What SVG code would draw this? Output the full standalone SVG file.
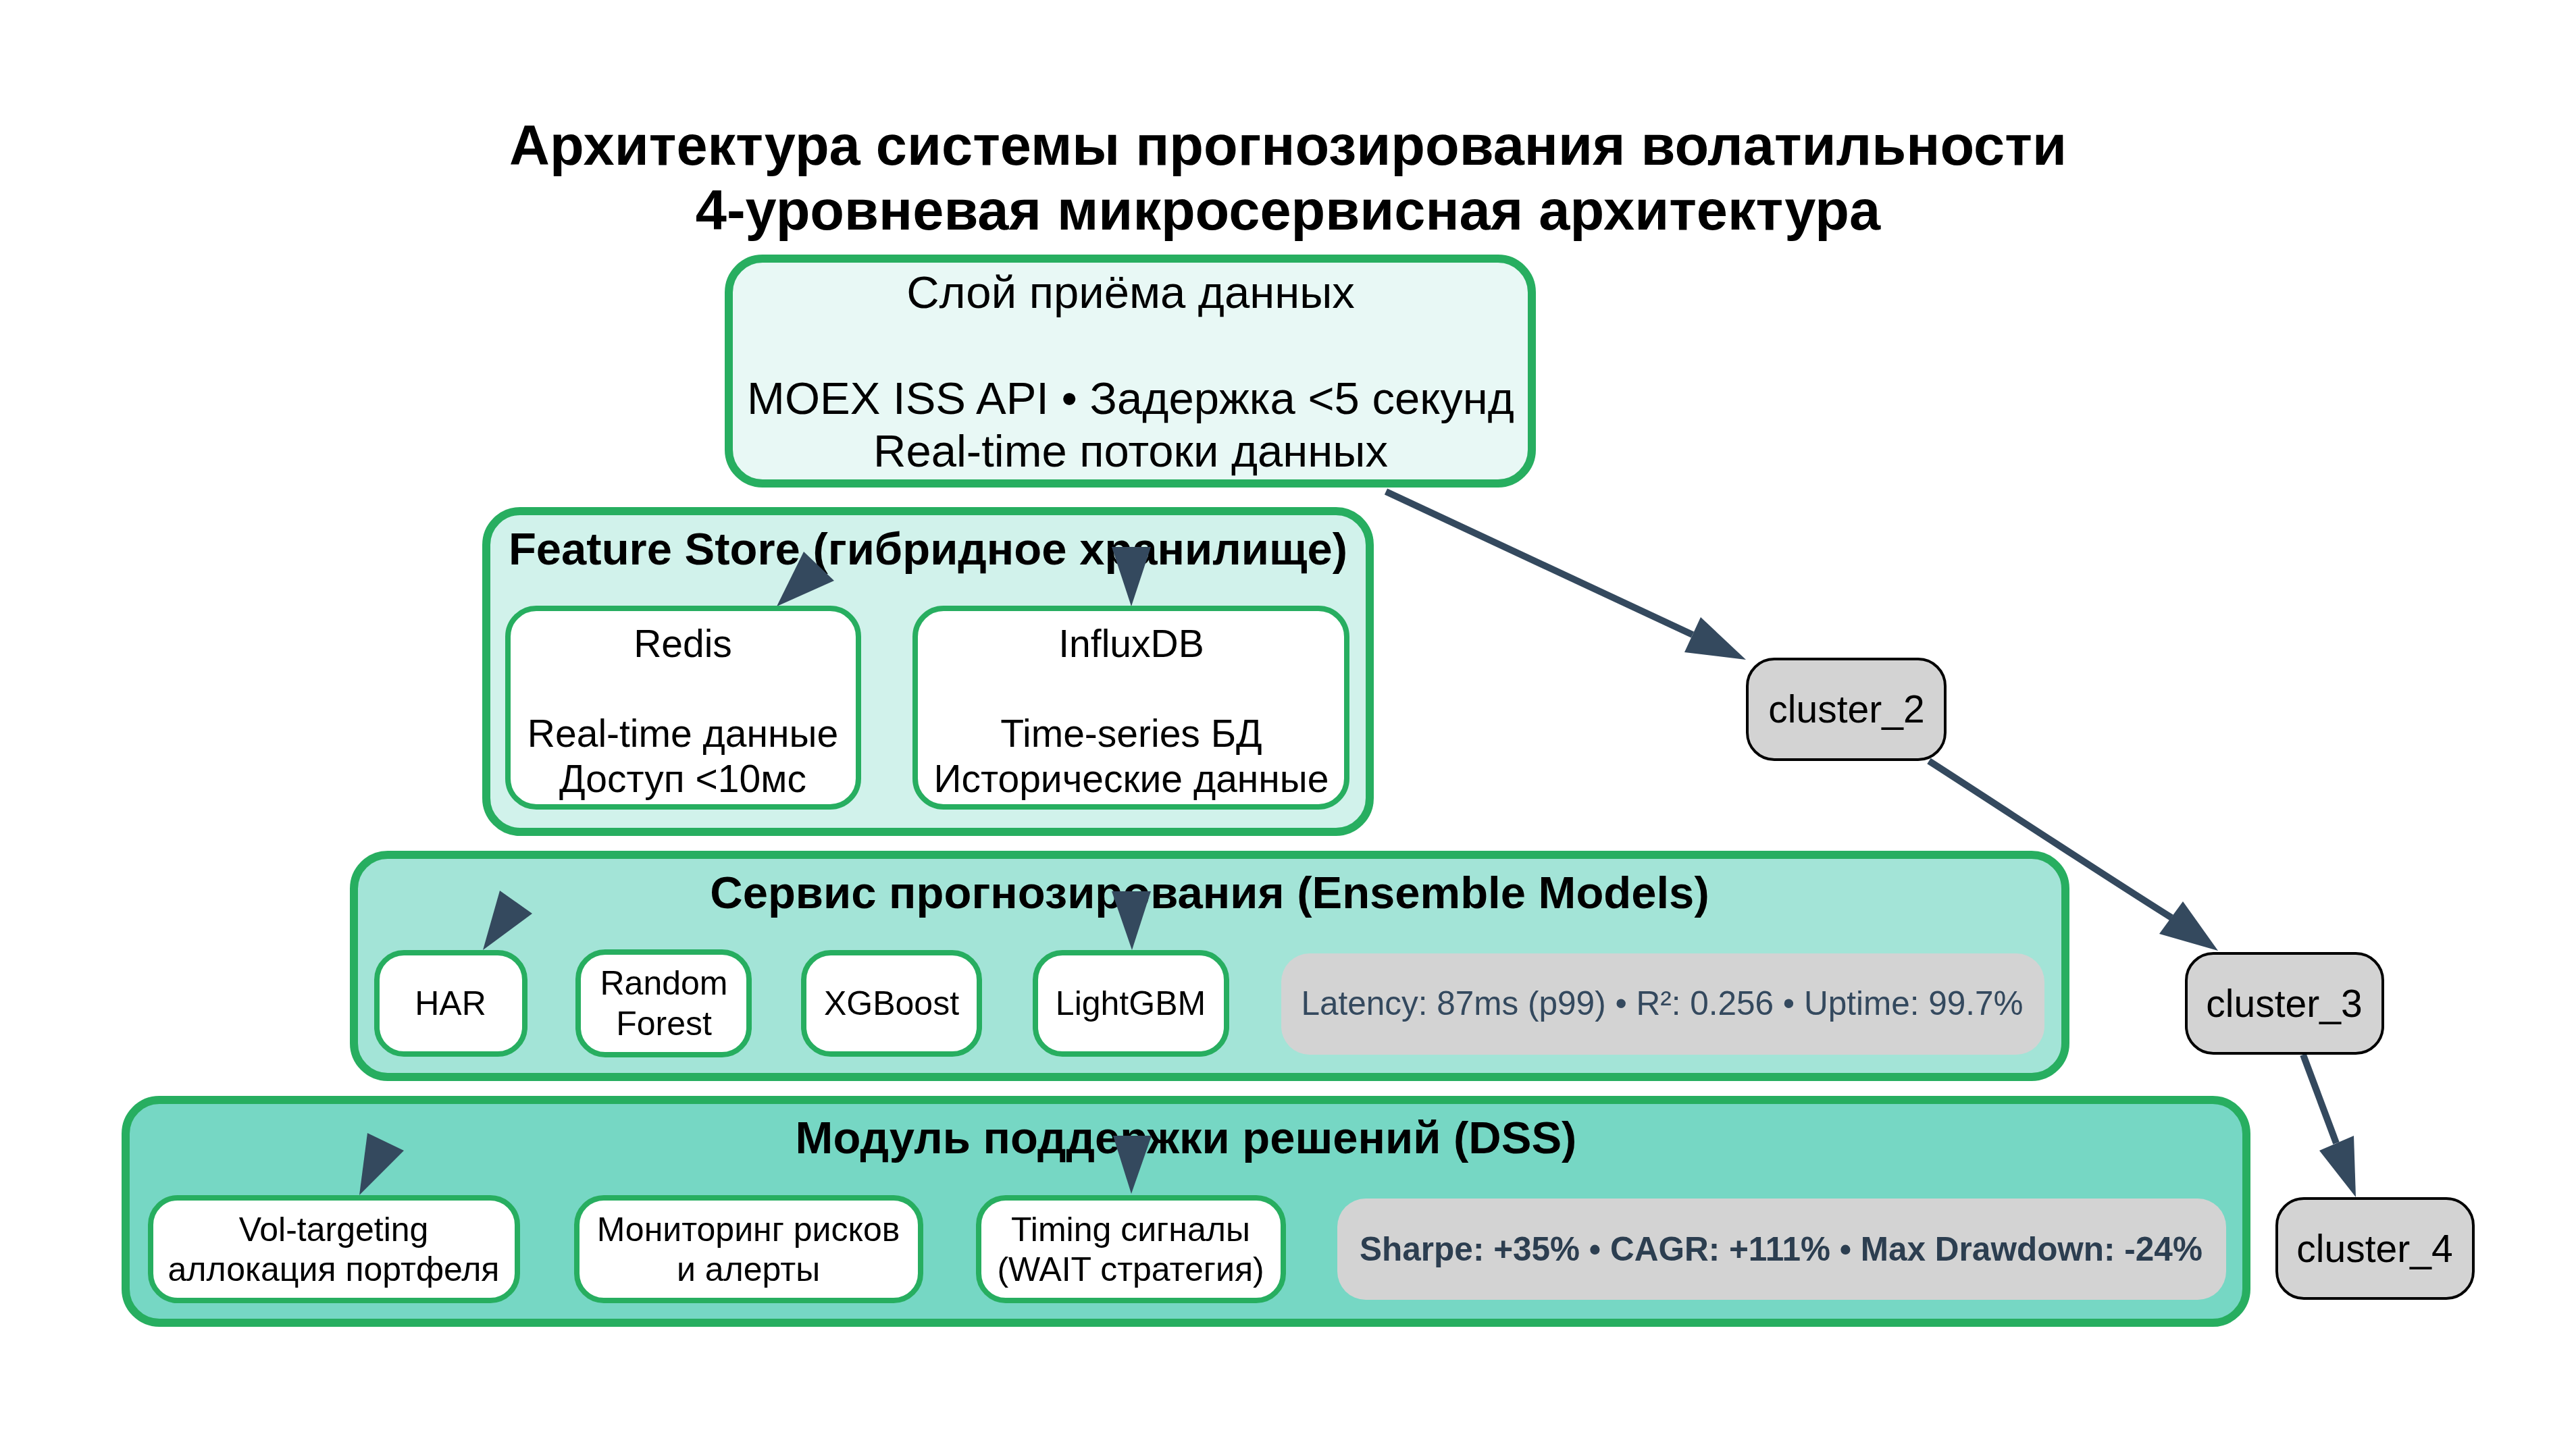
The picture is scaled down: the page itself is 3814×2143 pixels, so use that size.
<svg xmlns="http://www.w3.org/2000/svg" width="3814" height="2143" viewBox="0 0 3814 2143">
<style>
text{font-family:"Liberation Sans",Arial,Helvetica,sans-serif;text-anchor:middle;fill:#000}
.title{font-size:83px;font-weight:bold}
.clabel{font-size:67px;font-weight:bold}
.cluster{stroke:#27ae60;stroke-width:12}
.node{fill:#ffffff;stroke:#27ae60;stroke-width:8}
.t57{font-size:57px}
.t50{font-size:50px}
.t67{font-size:67px}
.metric{fill:#d3d3d3;stroke:none}
.mtext{font-size:49.5px;fill:#34495e}
.mtextb{font-size:49.5px;font-weight:bold;fill:#2c3e50}
.gnode{fill:#d3d3d3;stroke:#000;stroke-width:4}
.edge{fill:none;stroke:#34495e;stroke-width:10}
.head{fill:#34495e;stroke:none}
</style>
<rect x="0" y="0" width="3814" height="2143" fill="#ffffff"/>
<g id="title">
<text class="title" x="1907" y="244">Архитектура системы прогнозирования волатильности</text>
<text class="title" x="1907" y="340">4-уровневая микросервисная архитектура</text>
</g>
<g id="cluster_feature_store">
<rect class="cluster" x="720" y="757" width="1308" height="475" rx="50" fill="#d1f2eb"/>
<text class="clabel" x="1374" y="836">Feature Store (гибридное хранилище)</text>
</g>
<g id="cluster_service">
<rect class="cluster" x="524" y="1266" width="2534" height="329" rx="50" fill="#a3e4d7"/>
<text class="clabel" x="1791" y="1345">Сервис прогнозирования (Ensemble Models)</text>
</g>
<g id="cluster_dss">
<rect class="cluster" x="186" y="1629" width="3140" height="330" rx="50" fill="#76d7c4"/>
<text class="clabel" x="1756" y="1708">Модуль поддержки решений (DSS)</text>
</g>
<g id="connectors">
<path class="edge" d="M2052,728 L2506,940"/>
<polygon class="head" points="2585,977 2518,914 2494,966"/>
<path class="edge" d="M2856,1127 C2960,1194 3110,1293 3215,1359"/>
<polygon class="head" points="3284,1408 3232,1335 3197,1383"/>
<path class="edge" d="M3410,1562 L3459,1693"/>
<polygon class="head" points="3488,1773 3485,1682 3434,1704"/>
<polygon class="head" points="1190,817 1235,860 1150,898"/>
<polygon class="head" points="1646,810 1704,810 1675,898"/>
<polygon class="head" points="740,1319 788,1353 715,1407"/>
<polygon class="head" points="1646,1320 1704,1320 1676,1407"/>
<polygon class="head" points="544,1678 598,1704 532,1770"/>
<polygon class="head" points="1648,1682 1705,1682 1675,1768"/>
</g>
<g id="ingest">
<rect class="cluster" x="1079" y="383" width="1189" height="333" rx="50" fill="#e8f8f5"/>
<text class="t67" x="1674" y="456">Слой приёма данных</text>
<text class="t67" x="1674" y="613">MOEX ISS API • Задержка &lt;5 секунд</text>
<text class="t67" x="1674" y="691">Real-time потоки данных</text>
</g>
<g id="redis">
<rect class="node" x="752" y="901" width="519" height="294" rx="42"/>
<text class="t57" x="1011" y="973">Redis</text>
<text class="t57" x="1011" y="1106">Real-time данные</text>
<text class="t57" x="1011" y="1173">Доступ &lt;10мс</text>
</g>
<g id="influxdb">
<rect class="node" x="1355" y="901" width="639" height="294" rx="42"/>
<text class="t57" x="1675" y="973">InfluxDB</text>
<text class="t57" x="1675" y="1106">Time-series БД</text>
<text class="t57" x="1675" y="1173">Исторические данные</text>
</g>
<g id="har">
<rect class="node" x="558" y="1411" width="219" height="150" rx="40"/>
<text class="t50" x="667" y="1503">HAR</text>
</g>
<g id="random_forest">
<rect class="node" x="856" y="1410" width="253" height="152" rx="40"/>
<text class="t50" x="983" y="1473">Random</text>
<text class="t50" x="983" y="1533">Forest</text>
</g>
<g id="xgboost">
<rect class="node" x="1190" y="1411" width="260" height="150" rx="40"/>
<text class="t50" x="1320" y="1503">XGBoost</text>
</g>
<g id="lightgbm">
<rect class="node" x="1533" y="1411" width="283" height="150" rx="40"/>
<text class="t50" x="1674" y="1503">LightGBM</text>
</g>
<g id="service_metrics">
<rect class="metric" x="1897" y="1412" width="1130" height="150" rx="42"/>
<text class="mtext" x="2461" y="1503">Latency: 87ms (p99) • R²: 0.256 • Uptime: 99.7%</text>
</g>
<g id="vol_targeting">
<rect class="node" x="223" y="1774" width="543" height="152" rx="40"/>
<text class="t50" x="494" y="1838">Vol-targeting</text>
<text class="t50" x="494" y="1897">аллокация портфеля</text>
</g>
<g id="risk_monitoring">
<rect class="node" x="854" y="1774" width="509" height="152" rx="40"/>
<text class="t50" x="1108" y="1838">Мониторинг рисков</text>
<text class="t50" x="1108" y="1897">и алерты</text>
</g>
<g id="timing">
<rect class="node" x="1449" y="1774" width="451" height="152" rx="40"/>
<text class="t50" x="1674" y="1838">Timing сигналы</text>
<text class="t50" x="1674" y="1897">(WAIT стратегия)</text>
</g>
<g id="dss_metrics">
<rect class="metric" x="1980" y="1775" width="1316" height="150" rx="42"/>
<text class="mtextb" x="2637" y="1867">Sharpe: +35% • CAGR: +111% • Max Drawdown: -24%</text>
</g>
<g id="cluster_2">
<rect class="gnode" x="2587" y="976" width="293" height="149" rx="40"/>
<text class="t57" x="2734" y="1070">cluster_2</text>
</g>
<g id="cluster_3">
<rect class="gnode" x="3237" y="1412" width="291" height="148" rx="40"/>
<text class="t57" x="3382" y="1506">cluster_3</text>
</g>
<g id="cluster_4">
<rect class="gnode" x="3371" y="1775" width="291" height="148" rx="40"/>
<text class="t57" x="3516" y="1869">cluster_4</text>
</g>
</svg>
